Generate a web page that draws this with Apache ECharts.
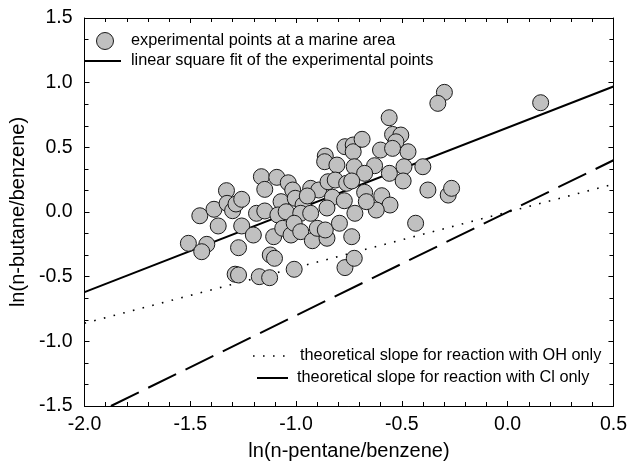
<!DOCTYPE html>
<html>
<head>
<meta charset="utf-8">
<script src="https://cdn.jsdelivr.net/npm/echarts@6/dist/echarts.min.js"></script>
<style>
html,body{margin:0;padding:0;background:#fff;}
#chart{width:630px;height:466px;}
</style>
</head>
<body>
<div id="chart"></div>
<script>
// ln(n-pentane/benzene) values of the experimental points
const lnPentane = [
  -1.509,-1.422,-1.446,-1.455,-1.388,-1.368,-1.329,-1.326,-1.300,-1.284,
  -1.257,-1.257,-1.272,-1.288,-1.272,-1.174,-1.125,-1.122,-1.102,-1.009,
  -1.164,-1.091,-1.148,-1.037,-1.016,-1.071,-1.004,-0.967,-0.931,-0.893,
  -0.947,-0.862,-0.865,-0.807,-0.769,-0.730,-0.730,-0.849,-0.815,-0.761,
  -0.828,-0.772,-1.187,-1.148,-1.086,-1.047,-0.978,-0.931,-0.854,-1.202,
  -1.106,-1.063,-1.024,-1.009,-0.978,-0.923,-0.900,-0.854,-0.862,-0.795,
  -0.737,-0.769,-0.725,-0.299,-0.330,-0.560,-0.688,-0.544,-0.505,-0.528,
  -0.601,-0.544,-0.471,-0.629,-0.559,-0.490,-0.494,-0.401,-0.377,-0.281,
  -0.265,-0.725,-0.676,-0.737,-0.676,-0.595,-0.556,-0.621,-0.722,-0.435,
  0.156,-0.668
];
// ln(n-butane/benzene) values of the experimental points
const lnButane = [
  -0.242,-0.250,-0.307,-0.029,0.021,-0.108,0.165,0.067,0.010,0.062,
  0.098,-0.108,-0.276,-0.481,-0.487,-0.500,-0.508,-0.332,-0.358,-0.443,
  0.273,0.268,0.175,0.226,0.170,0.080,0.106,0.054,0.183,0.170,
  0.124,0.433,0.389,0.363,0.505,0.518,0.466,0.234,0.247,0.222,
  0.114,0.087,-0.010,0.008,-0.023,0.002,-0.010,-0.010,0.031,-0.178,
  -0.191,-0.126,-0.178,-0.087,-0.152,-0.222,-0.126,-0.203,-0.139,-0.087,
  -0.191,-0.430,-0.358,0.925,0.840,0.729,0.562,0.600,0.595,0.543,
  0.479,0.492,0.466,0.358,0.299,0.350,0.240,0.350,0.170,0.131,
  0.183,0.350,0.299,0.240,0.152,0.126,0.054,0.015,-0.010,-0.087,
  0.845,0.080
];
// line end points [x, y]
const fitLine = [[-2.0, -0.62], [0.5, 0.97]];
const ohLine  = [[-2.0, -0.86], [0.5, 0.215]];
const clLine  = [[-1.875, -1.5], [0.5, 0.40]];
const xTicks = {min: -2.0, max: 0.5, step: 0.5};
const yTicks = {min: -1.5, max: 1.5, step: 0.5};

const names = [
  'experimental points at a marine area',
  'linear square fit of the experimental points',
  'theoretical slope for reaction with OH only',
  'theoretical slope for reaction with Cl only'
];

// Prefer a narrow sans (the reference text is condensed); keep horizontal widths the same.
const REG = '"Liberation Sans", Arial, Helvetica, sans-serif';
const NAR = '"Liberation Sans Narrow", "Arial Narrow", "Liberation Sans", Arial, sans-serif';
let FONT = REG, k = 1;
(function () {
  const c = document.createElement('canvas').getContext('2d');
  const s = 'experimental points at a marine area 0123456789';
  c.font = '100px ' + REG; const wr = c.measureText(s).width;
  c.font = '100px ' + NAR; const wn = c.measureText(s).width;
  if (wn / wr < 0.92) { FONT = NAR; k = wn / wr; }
})();
const TICK_FS = 19.5 / k, TITLE_FS = 20 / k, LEG_FS = 16.3 / k;

const points = lnPentane.map((x, i) => [x, lnButane[i]]);
const OH_DASH = [1.6, 8.4], CL_DASH = [31, 10.5];

function axisCommon(showLabel) {
  return {
    type: 'value',
    axisLine: {show: true, onZero: false, lineStyle: {color: '#000', width: 1}},
    axisTick: {show: true, inside: true, length: 5, lineStyle: {color: '#000', width: 1}},
    minorTick: {show: true, splitNumber: 5, length: 4, lineStyle: {color: '#000', width: 1}},
    splitLine: {show: false},
    axisLabel: {show: showLabel, color: '#000', fontSize: TICK_FS, fontFamily: FONT,
      formatter: v => v.toFixed(1)}
  };
}

function legendText(x, y, t) {
  return {type: 'text', x: x, y: y, silent: true,
    style: {text: t, fill: '#000', font: LEG_FS + 'px ' + FONT, verticalAlign: 'middle', align: 'left'}};
}

const chart = echarts.init(document.getElementById('chart'), null, {renderer: 'canvas'});
chart.setOption({
  animation: false,
  backgroundColor: '#fff',
  textStyle: {fontFamily: FONT},
  grid: {left: 76, right: 16, top: 18, bottom: 60, containLabel: false},
  xAxis: [
    Object.assign(axisCommon(true), {
      position: 'bottom', min: xTicks.min, max: xTicks.max, interval: xTicks.step,
      name: 'ln(n-pentane/benzene)', nameLocation: 'middle', nameGap: 45 - TITLE_FS / 2,
      nameTextStyle: {color: '#000', fontSize: TITLE_FS, fontFamily: FONT},
      axisLabel: {show: true, color: '#000', fontSize: TICK_FS, fontFamily: FONT,
        margin: 18 - TICK_FS / 2, formatter: v => v.toFixed(1)}
    }),
    Object.assign(axisCommon(false), {
      position: 'top', min: xTicks.min, max: xTicks.max, interval: xTicks.step
    })
  ],
  yAxis: [
    Object.assign(axisCommon(true), {
      position: 'left', min: yTicks.min, max: yTicks.max, interval: yTicks.step,
      name: 'ln(n-butane/benzene)', nameLocation: 'middle', nameGap: 54 - TITLE_FS / 2, nameRotate: 90,
      nameTextStyle: {color: '#000', fontSize: TITLE_FS, fontFamily: FONT},
      minorTick: {show: true, splitNumber: 3, length: 4, lineStyle: {color: '#000', width: 1}},
      axisLabel: {show: true, color: '#000', fontSize: TICK_FS, fontFamily: FONT, margin: 12,
        formatter: v => v.toFixed(1)}
    }),
    Object.assign(axisCommon(false), {
      position: 'right', min: yTicks.min, max: yTicks.max, interval: yTicks.step,
      minorTick: {show: true, splitNumber: 3, length: 4, lineStyle: {color: '#000', width: 1}}
    })
  ],
  graphic: [
    {type: 'circle', silent: true, shape: {cx: 105, cy: 41, r: 8.5},
      style: {fill: '#c0c0c0', stroke: '#1a1a1a', lineWidth: 1}},
    legendText(131, 41, names[0]),
    {type: 'line', silent: true, shape: {x1: 85, y1: 61, x2: 121, y2: 61},
      style: {stroke: '#000', lineWidth: 2}},
    legendText(131, 61, names[1]),
    {type: 'line', silent: true, shape: {x1: 253, y1: 356, x2: 293, y2: 356},
      style: {stroke: '#000', lineWidth: 1.6, lineDash: OH_DASH}},
    legendText(300, 356, names[2]),
    {type: 'line', silent: true, shape: {x1: 257, y1: 378, x2: 288, y2: 378},
      style: {stroke: '#000', lineWidth: 2, lineDash: CL_DASH}},
    legendText(297, 378, names[3])
  ],
  series: [
    {
      name: names[1], type: 'line', data: fitLine, symbol: 'none', z: 3,
      lineStyle: {color: '#000', width: 2}
    },
    {
      name: names[2], type: 'line', data: ohLine, symbol: 'none', z: 2,
      lineStyle: {color: '#000', width: 1.6, type: OH_DASH}
    },
    {
      name: names[3], type: 'line', data: clLine, symbol: 'none', z: 2,
      lineStyle: {color: '#000', width: 2, type: CL_DASH}
    },
    {
      name: names[0], type: 'scatter', data: points, symbol: 'circle', symbolSize: 16, z: 4,
      itemStyle: {color: '#c0c0c0', borderColor: '#1a1a1a', borderWidth: 1, opacity: 1}
    }
  ]
});
</script>
</body>
</html>
